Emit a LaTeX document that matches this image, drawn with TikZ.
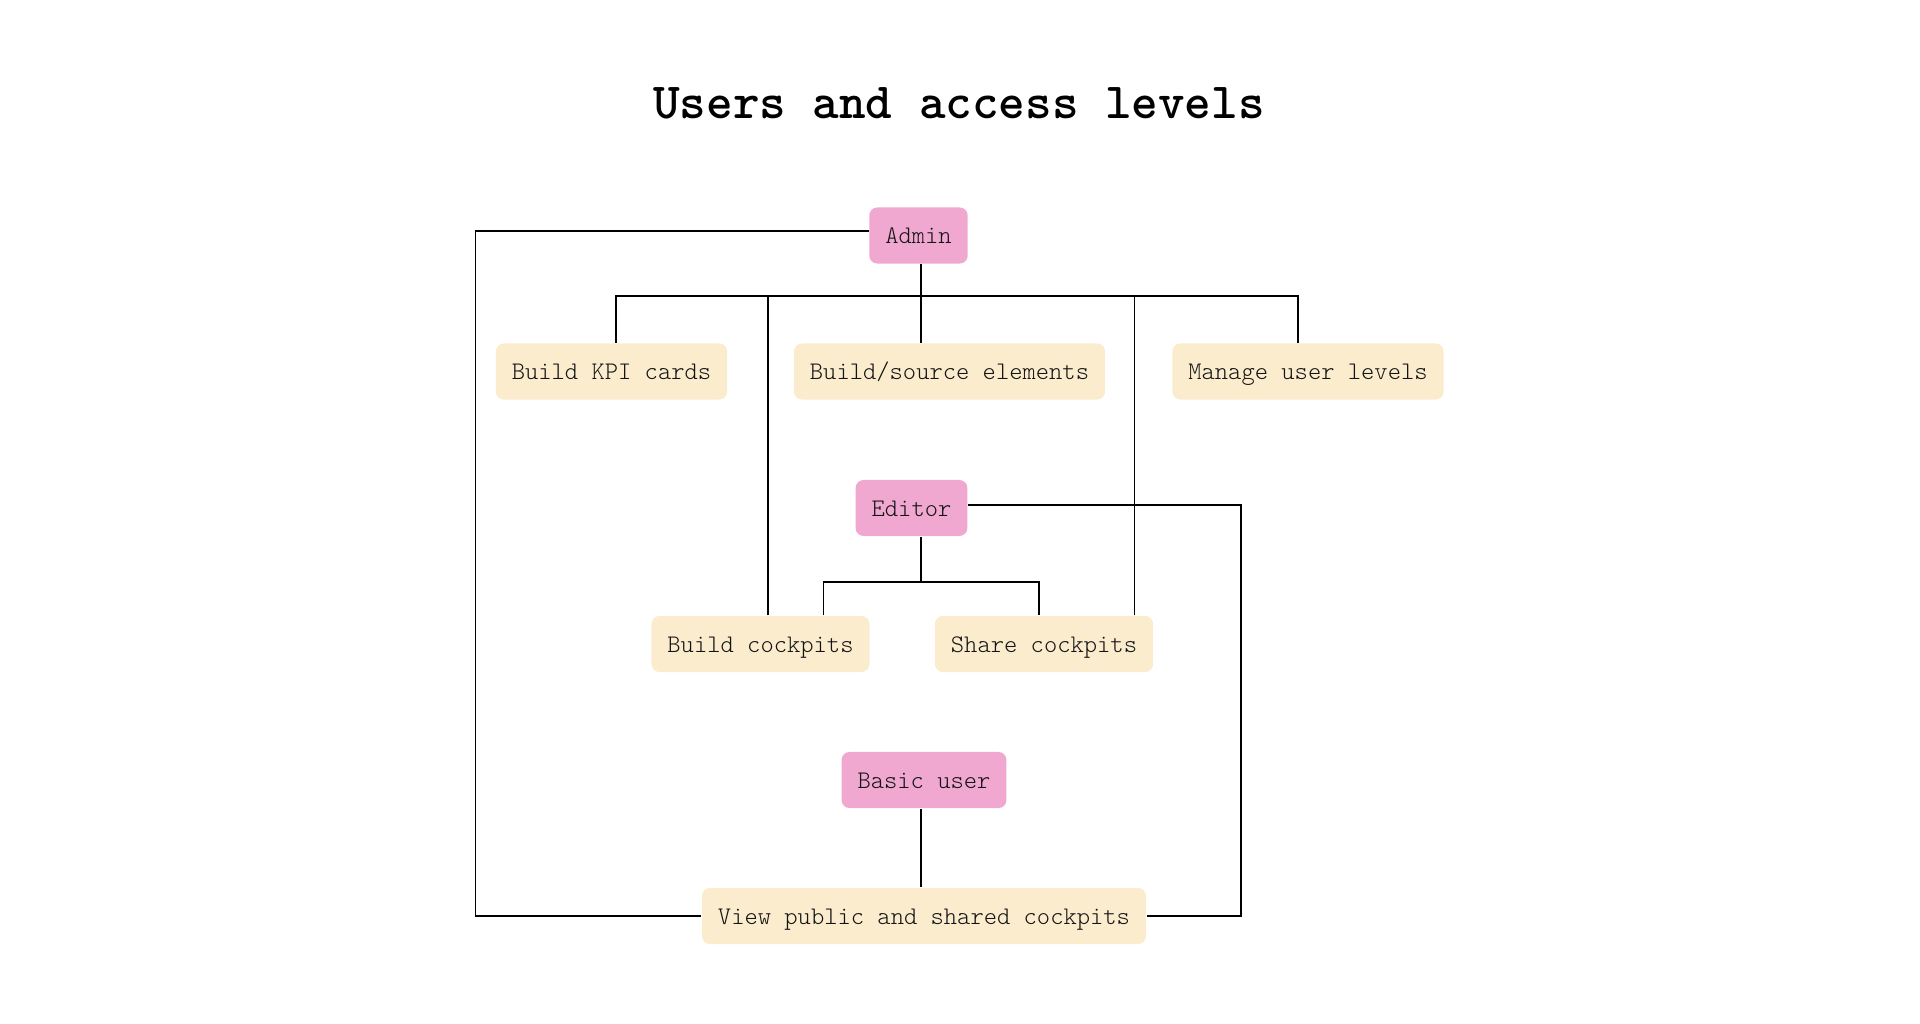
\documentclass[tikz,border=0pt]{standalone}
\usepackage{tikz}
\definecolor{rolepink}{HTML}{F0A8D0}
\definecolor{taskcream}{HTML}{FAECCD}
\definecolor{inkgray}{HTML}{141414}
\begin{document}
\begin{tikzpicture}[x=.01cm,y=-.01cm,
  box/.style={rounded corners=.08cm,minimum height=.56cm,inner xsep=.16cm,
    text height=5.6pt,text depth=1pt,text=inkgray,font=\fontsize{7.2pt}{9pt}\ttfamily\fontseries{l}\selectfont},
  role/.style={box,fill=rolepink},
  task/.style={box,fill=taskcream},
  link/.style={line width=.3pt,black}]
  \useasboundingbox (0,0) rectangle (1920,1024);
  \node[anchor=base,font=\fontsize{14.4pt}{17pt}\ttfamily\bfseries] (title) at (959,118) {Users and access levels};
  \node[role] (admin) at (918.5,235.5) {Admin};%roles
  \node[role] (editor) at (911.5,508) {Editor};
  \node[role] (basic) at (924,780) {Basic user};
  \node[task] (kpi) at (611.5,371.5) {Build KPI cards};%tasks
  \node[task] (source) at (949.5,371.5) {Build/source elements};
  \node[task] (levels) at (1308,371.5) {Manage user levels};
  \node[task] (buildc) at (760.5,644) {Build cockpits};
  \node[task] (sharec) at (1044,644) {Share cockpits};
  \node[task] (view) at (924,916) {View public and shared cockpits};
  \coordinate (bus) at (0,296);
  \coordinate (ebus) at (0,582);
  \coordinate (leftx) at (475.5,0);
  \coordinate (rightx) at (1241,0);
  \draw[link] ([xshift=.045cm]kpi.north) |- (bus -| admin.south) -| ([xshift=-.1cm]levels.north);%admin bus
  \draw[link] ([xshift=.025cm]admin.south) -- ([xshift=.025cm]admin.south |- source.north);
  \draw[link] ([xshift=.075cm]buildc.north) -- ([xshift=.075cm]buildc.north |- bus);
  \draw[link] ([xshift=.9cm]sharec.north) -- ([xshift=.9cm]sharec.north |- bus);
  \draw[link] ([xshift=.095cm]editor.south) -- ([xshift=.095cm]editor.south |- ebus);%editor bus
  \draw[link] ([xshift=.625cm]buildc.north) |- (ebus -| editor.south) -| ([xshift=-.05cm]sharec.north);
  \draw[link] ([xshift=-.03cm]basic.south) -- ([xshift=-.03cm]basic.south |- view.north);
  \draw[link] ([yshift=.045cm]admin.west) -| (leftx |- view.west) -- (view.west);%outer loops
  \draw[link] ([yshift=.03cm]editor.east) -| (rightx |- view.east) -- (view.east);
\end{tikzpicture}
\end{document}
